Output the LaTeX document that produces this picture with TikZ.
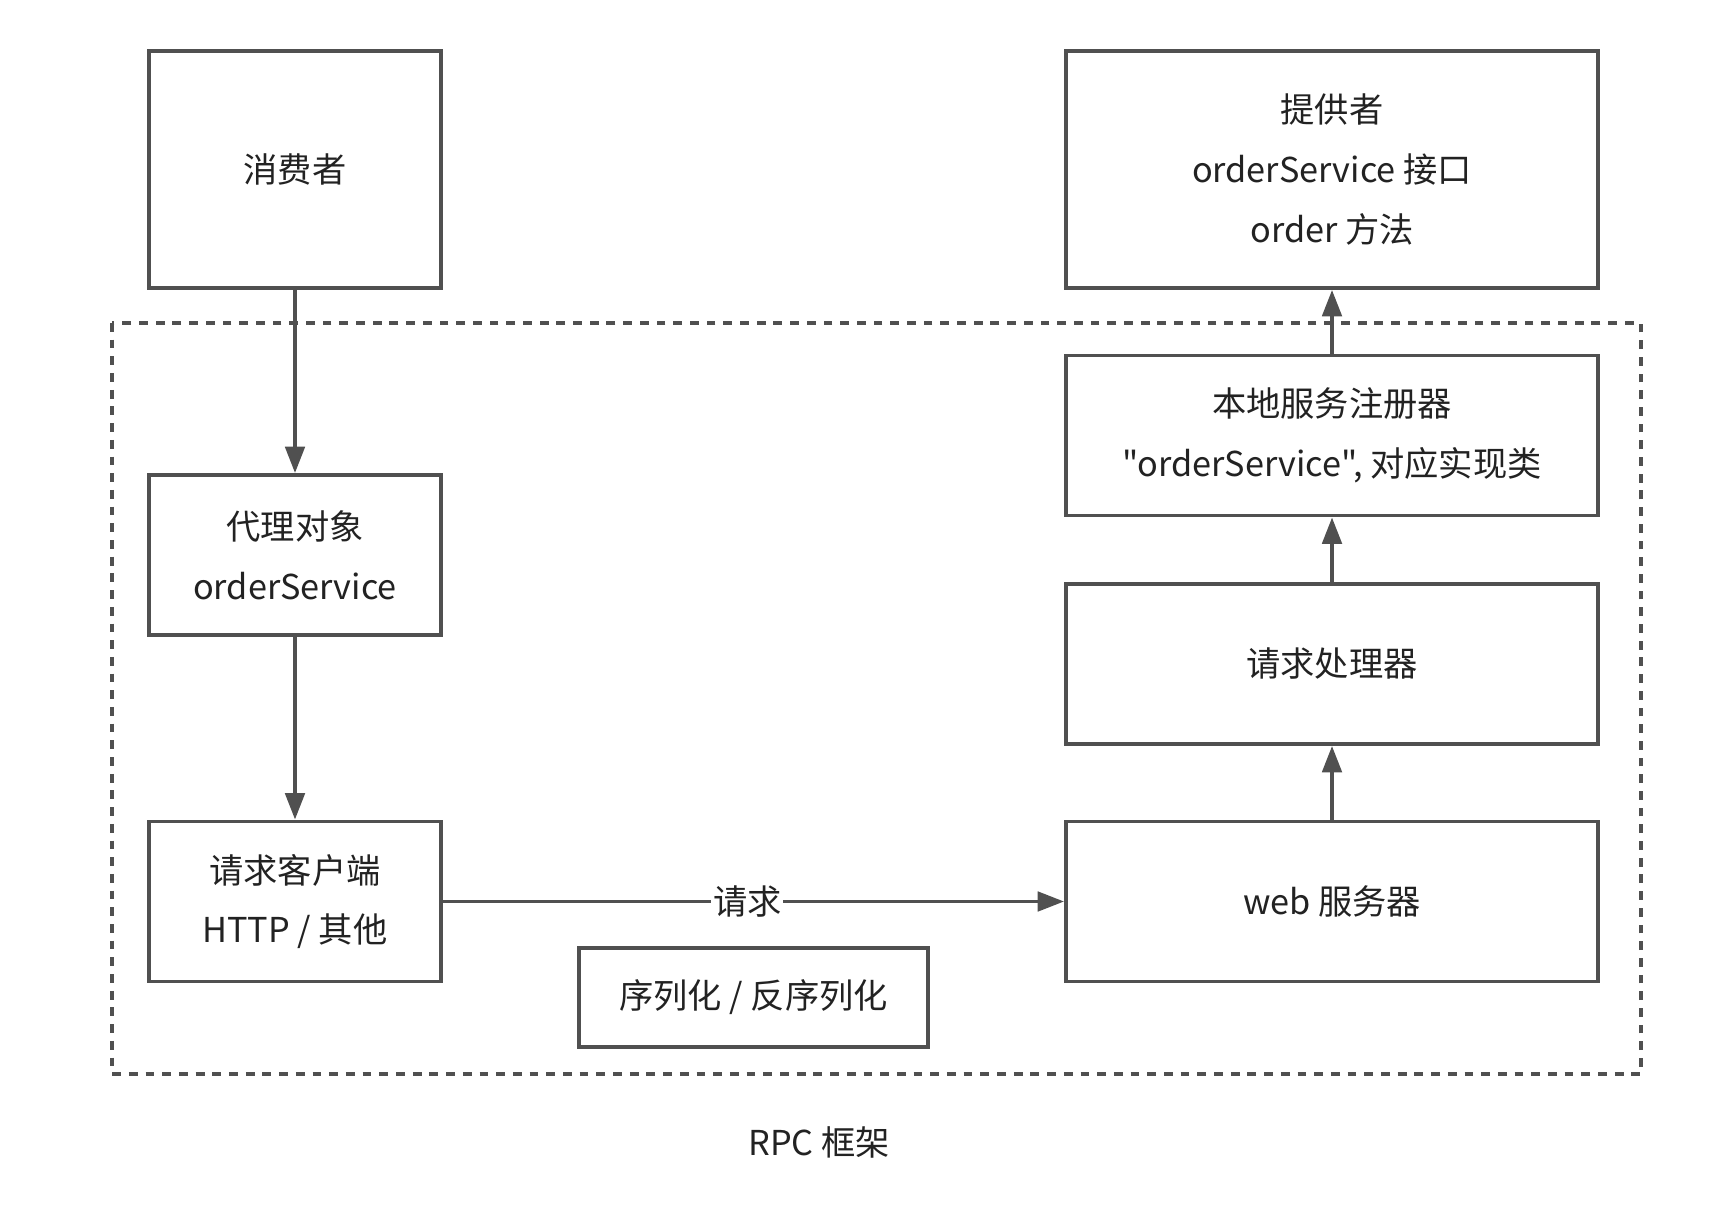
\documentclass[tikz,border=0pt]{standalone}
\usepackage{fontspec}
\setmainfont{Noto Sans CJK SC}[Ligatures=TeXOff]
\usepackage{tikz}
\usetikzlibrary{arrows.meta}

\definecolor{boxgray}{HTML}{505050}
\definecolor{textgray}{HTML}{222222}

\begin{document}
\begin{tikzpicture}[every node/.style={font=\fontsize{19.5}{34}\selectfont, text=textgray}, >={Triangle[length=15pt, width=11pt]},
	block/.style={draw=boxgray, line width=2.2pt, align=center, inner sep=0pt},
	link/.style={->, draw=boxgray, line width=2.2pt}]
	\useasboundingbox (0,0) rectangle (34.56,-24.2);
	\draw[boxgray, line width=2pt, dash pattern=on 5pt off 4.5pt] (2.24,-6.46) rectangle (32.82,-21.48);
	\node[block, minimum width=5.84cm, minimum height=4.74cm] (consumer) at (5.90,-3.39) {消费者};
	\node[block, minimum width=10.64cm, minimum height=4.74cm] (provider) at (26.64,-3.39) {提供者\\orderService 接口\\order 方法};
	\node[block, minimum width=5.84cm, minimum height=3.2cm] (proxy) at (5.90,-11.10) {代理对象\\orderService};
	\node[block, minimum width=5.84cm, minimum height=3.2cm] (client) at (5.90,-18.03) {请求客户端\\HTTP / 其他};
	\node[block, minimum width=6.98cm, minimum height=1.98cm] (serial) at (15.07,-19.95) {序列化 / 反序列化};
	\node[block, minimum width=10.64cm, minimum height=3.2cm] (registry) at (26.64,-8.71) {本地服务注册器\\"orderService", 对应实现类};
	\node[block, minimum width=10.64cm, minimum height=3.2cm] (handler) at (26.64,-13.28) {请求处理器};
	\node[block, minimum width=10.64cm, minimum height=3.2cm] (web) at (26.64,-18.03) {web 服务器};
	\node (rpc) at (16.38,-22.84) {RPC 框架};
	\draw[link] (consumer) -- (proxy);
	\draw[link] (proxy) -- (client);
	\draw[link] (client) -- node[fill=white, inner sep=1pt, pos=0.49] (req) {请求} (web);
	\draw[link] (web) -- (handler);
	\draw[link] (handler) -- (registry);
	\draw[link] (registry) -- (provider);
\end{tikzpicture}
\end{document}
